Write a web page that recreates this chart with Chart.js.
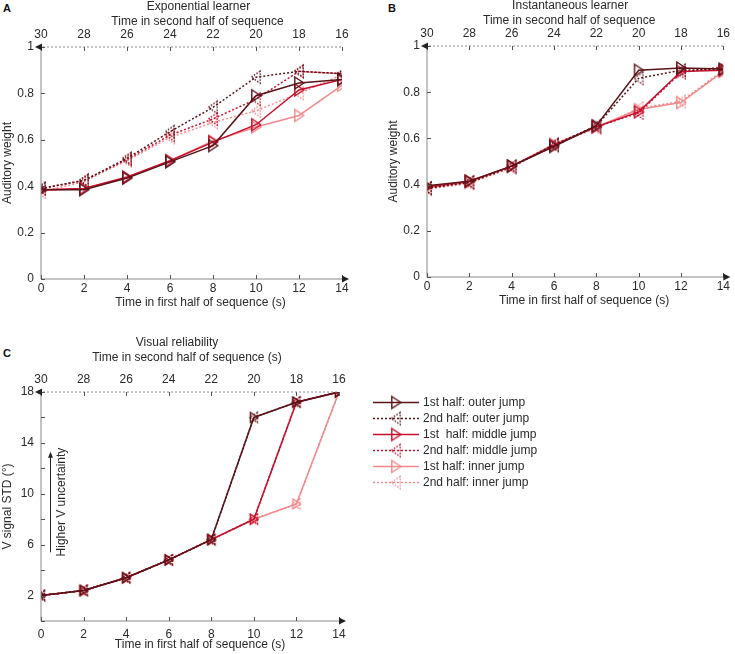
<!DOCTYPE html>
<html>
<head>
<meta charset="utf-8">
<script src="https://cdn.jsdelivr.net/npm/chart.js@4.4.1/dist/chart.umd.min.js"></script>
<style>
  body { margin: 0; background: #fff; width: 735px; height: 654px; position: relative; overflow: hidden; font-family: "Liberation Sans", Arial, sans-serif; }
  .panel { position: absolute; }
  .tag { position: absolute; font-weight: bold; font-size: 11px; color: #111; line-height: 11px; }
</style>
</head>
<body>
<div class="tag" style="left:3px;top:3px">A</div>
<div class="tag" style="left:388px;top:3px">B</div>
<div class="tag" style="left:3px;top:348px">C</div>

<div class="panel" style="left:0;top:0"><canvas id="chartA" width="370" height="320"></canvas></div>
<div class="panel" style="left:386px;top:-1px"><canvas id="chartB" width="349" height="320"></canvas></div>
<div class="panel" style="left:0;top:335px"><canvas id="chartC" width="735" height="319"></canvas></div>

<script>
// time axes
const timeFirst = [0, 2, 4, 6, 8, 10, 12, 14];
const timeSecond = [30, 28, 26, 24, 22, 20, 18, 16];

// A: exponential learner, auditory weight
const expOuter1 = [0.385, 0.385, 0.435, 0.505, 0.575, 0.79, 0.845, 0.86];
const expOuter2 = [0.39, 0.425, 0.52, 0.635, 0.74, 0.87, 0.895, 0.885];
const expMiddle1 = [0.385, 0.39, 0.44, 0.51, 0.59, 0.665, 0.815, 0.86];
const expMiddle2 = [0.39, 0.425, 0.515, 0.62, 0.69, 0.775, 0.895, 0.885];
const expInner1 = [0.38, 0.39, 0.435, 0.51, 0.595, 0.655, 0.705, 0.835];
const expInner2 = [0.375, 0.42, 0.51, 0.61, 0.675, 0.725, 0.8, 0.88];

// B: instantaneous learner
const insOuter1 = [0.395, 0.415, 0.48, 0.565, 0.655, 0.895, 0.905, 0.9];
const insOuter2 = [0.385, 0.41, 0.48, 0.57, 0.655, 0.86, 0.895, 0.9];
const insMiddle1 = [0.39, 0.415, 0.48, 0.57, 0.65, 0.715, 0.89, 0.895];
const insMiddle2 = [0.385, 0.41, 0.475, 0.575, 0.65, 0.71, 0.885, 0.91];
const insInner1 = [0.385, 0.41, 0.48, 0.575, 0.65, 0.725, 0.755, 0.89];
const insInner2 = [0.38, 0.405, 0.475, 0.57, 0.645, 0.73, 0.76, 0.895];

// C: visual reliability (V signal STD, deg) - both halves identical
const visOuter = [2, 2.4, 3.4, 4.8, 6.4, 16, 17.2, 18];
const visMiddle = [2, 2.4, 3.4, 4.8, 6.4, 8, 17.2, 18];
const visInner = [2, 2.4, 3.4, 4.8, 6.4, 8, 9.2, 18];

const seriesLabels = ['1st half: outer jump', '2nd half: outer jump', '1st  half: middle jump',
  '2nd half: middle jump', '1st half: inner jump', '2nd half: inner jump'];
const weightTicks = [0, 0.2, 0.4, 0.6, 0.8, 1];
const stdTicks = [2, 6, 10, 14, 18];

const colOuter = '#5a1418';
const colMiddle = '#c8102e';
const colInner = '#f2898b';
const textCol = '#2a2a2a';

Chart.defaults.font.family = '"Liberation Sans", Arial, sans-serif';
Chart.defaults.font.size = 12;
Chart.defaults.color = textCol;

// open triangle marker, dir 1 = right, -1 = left
function triMarker(color, dir, dotted, s) {
  const c = document.createElement('canvas');
  const w = Math.ceil(s * 2 + 4);
  c.width = w; c.height = w;
  const g = c.getContext('2d');
  g.strokeStyle = color;
  g.lineWidth = 1.4;
  if (dotted) g.setLineDash([1.5, 1.5]);
  const m = w / 2;
  g.beginPath();
  g.moveTo(m - dir * s * 0.7, m - s);
  g.lineTo(m + dir * s * 0.8, m);
  g.lineTo(m - dir * s * 0.7, m + s);
  g.closePath();
  g.stroke();
  return c;
}

function makeSets(vals, size) {
  const cols = [colOuter, colOuter, colMiddle, colMiddle, colInner, colInner];
  return vals.map((v, i) => {
    const second = i % 2 === 1;
    return {
      label: seriesLabels[i],
      data: v.map((y, k) => ({ x: timeFirst[k], y: y })),
      borderColor: cols[i],
      backgroundColor: cols[i],
      borderWidth: 1.5,
      borderDash: second ? [2, 2] : [],
      pointStyle: triMarker(cols[i], second ? -1 : 1, second, size),
      pointRadius: size,
      tension: 0,
      fill: false
    };
  });
}

// axis lines, inward ticks, arrows and the horizontal axis titles
const axisDecor = {
  id: 'axisDecor',
  afterDraw(chart, args, opts) {
    const { ctx, chartArea: a, scales } = chart;
    ctx.save();
    ctx.lineWidth = 1;
    ctx.strokeStyle = '#8a8a8a';
    ctx.beginPath();
    ctx.moveTo(a.left, a.top); ctx.lineTo(a.left, a.bottom); ctx.lineTo(a.right + 2, a.bottom);
    ctx.stroke();
    ctx.setLineDash([2, 2]);
    ctx.beginPath();
    ctx.moveTo(a.left - 2, a.top); ctx.lineTo(a.right, a.top);
    ctx.stroke();
    ctx.setLineDash([]);
    ctx.strokeStyle = '#555';
    ctx.beginPath();
    scales.x.ticks.forEach(t => {
      const px = Math.round(scales.x.getPixelForValue(t.value)) + 0.5;
      ctx.moveTo(px, a.bottom); ctx.lineTo(px, a.bottom - 4);
    });
    scales.x2.ticks.forEach(t => {
      const px = Math.round(scales.x2.getPixelForValue(t.value)) + 0.5;
      ctx.moveTo(px, a.top); ctx.lineTo(px, a.top + 4);
    });
    scales.y.ticks.forEach(t => {
      const py = Math.round(scales.y.getPixelForValue(t.value)) + 0.5;
      ctx.moveTo(a.left, py); ctx.lineTo(a.left + 4, py);
    });
    ctx.stroke();
    ctx.fillStyle = '#222';
    ctx.beginPath();
    ctx.moveTo(a.right + 7, a.bottom); ctx.lineTo(a.right, a.bottom - 3.5); ctx.lineTo(a.right, a.bottom + 3.5);
    ctx.closePath(); ctx.fill();
    ctx.beginPath();
    ctx.moveTo(a.left - 6, a.top); ctx.lineTo(a.left + 1, a.top - 3.5); ctx.lineTo(a.left + 1, a.top + 3.5);
    ctx.closePath(); ctx.fill();

    // titles (slightly off-centre like the original figure)
    const cx = (a.left + a.right) / 2;
    ctx.font = '12px "Liberation Sans", Arial, sans-serif';
    ctx.fillStyle = textCol;
    ctx.textAlign = 'center';
    ctx.textBaseline = 'middle';
    opts.top.forEach((line, i) => ctx.fillText(line, cx + opts.topShift[i], opts.topY + i * 15));
    ctx.fillText('Time in first half of sequence (s)', cx + opts.bottomShift, a.bottom + opts.bottomGap);
    ctx.restore();
  }
};

// legend and the uncertainty arrow for panel C
const panelCExtras = {
  id: 'panelCExtras',
  afterDraw(chart) {
    const { ctx, chartArea: a, scales } = chart;
    ctx.save();
    const ax = a.left + 9;
    const yLo = scales.y.getPixelForValue(5.4);
    const yHi = scales.y.getPixelForValue(13.3);
    ctx.strokeStyle = '#222'; ctx.fillStyle = '#222'; ctx.lineWidth = 1;
    ctx.beginPath(); ctx.moveTo(ax + 0.5, yLo); ctx.lineTo(ax + 0.5, yHi + 4); ctx.stroke();
    ctx.beginPath(); ctx.moveTo(ax + 0.5, yHi); ctx.lineTo(ax - 2, yHi + 6); ctx.lineTo(ax + 3, yHi + 6); ctx.closePath(); ctx.fill();
    ctx.translate(ax + 12, (yLo + yHi) / 2);
    ctx.rotate(-Math.PI / 2);
    ctx.font = '12px "Liberation Sans", Arial, sans-serif';
    ctx.textAlign = 'center'; ctx.textBaseline = 'middle';
    ctx.fillStyle = textCol;
    ctx.fillText('Higher V uncertainty', 0, 0);
    ctx.restore();

    ctx.save();
    ctx.font = '12px "Liberation Sans", Arial, sans-serif';
    ctx.textBaseline = 'middle';
    chart.data.datasets.forEach((ds, i) => {
      const y = 67 + i * 16;
      ctx.strokeStyle = ds.borderColor;
      ctx.lineWidth = 1.5;
      ctx.setLineDash(ds.borderDash);
      ctx.beginPath(); ctx.moveTo(373, y + 0.5); ctx.lineTo(419, y + 0.5); ctx.stroke();
      ctx.setLineDash([]);
      const mk = triMarker(ds.borderColor, i % 2 ? -1 : 1, i % 2 === 1, 6);
      ctx.drawImage(mk, 396 - mk.width / 2, y + 0.5 - mk.height / 2);
      ctx.fillStyle = textCol;
      ctx.fillText(ds.label, 423, y + 1);
    });
    ctx.restore();
  }
};

function buildChart(id, cfg) {
  return new Chart(document.getElementById(id), {
    type: 'line',
    data: { datasets: cfg.sets },
    plugins: cfg.extra ? [axisDecor, cfg.extra] : [axisDecor],
    options: {
      responsive: false,
      animation: false,
      events: [],
      layout: { padding: { left: 0, right: cfg.padRight, top: 0, bottom: 0 } },
      plugins: {
        legend: { display: false }, tooltip: { enabled: false },
        axisDecor: { top: cfg.topTitle, topShift: cfg.topShift, topY: cfg.topY, bottomShift: cfg.bottomShift, bottomGap: cfg.bottomGap }
      },
      scales: {
        x: {
          type: 'linear', position: 'bottom',
          min: timeFirst[0], max: timeFirst[timeFirst.length - 1],
          grid: { display: false, drawTicks: false }, border: { display: false },
          ticks: { stepSize: 2, padding: cfg.xPad },
          afterFit: s => { s.height = cfg.bottomH; }
        },
        x2: {
          type: 'linear', position: 'top', reverse: true,
          min: Math.min(...timeSecond), max: Math.max(...timeSecond),
          grid: { display: false, drawTicks: false }, border: { display: false },
          ticks: { stepSize: 2, padding: 5 },
          afterFit: s => { s.height = cfg.topH; }
        },
        y: {
          type: 'linear', min: cfg.yMin, max: cfg.yMax,
          grid: { display: false, drawTicks: false }, border: { display: false },
          ticks: {
            stepSize: cfg.yStep, padding: 7,
            callback: v => cfg.yLabels.some(l => Math.abs(l - v) < 1e-6) ? String(+v.toFixed(2)) : ''
          },
          title: { display: true, text: cfg.yTitle, padding: { top: 0, bottom: 0 } },
          afterFit: s => { s.width = 41; }
        }
      }
    }
  });
}

buildChart('chartA', {
  sets: makeSets([expOuter1, expOuter2, expMiddle1, expMiddle2, expInner1, expInner2], 6),
  padRight: 28, topH: 47, bottomH: 41, xPad: 2,
  topTitle: ['Exponential learner', 'Time in second half of sequence'],
  topShift: [7, 6], topY: 7, bottomShift: 9, bottomGap: 24,
  yMin: 0, yMax: 1, yStep: 0.2, yLabels: weightTicks, yTitle: 'Auditory weight'
});

buildChart('chartB', {
  sets: makeSets([insOuter1, insOuter2, insMiddle1, insMiddle2, insInner1, insInner2], 6),
  padRight: 8, topH: 47, bottomH: 42, xPad: 2,
  topTitle: ['Instantaneous learner', 'Time in second half of sequence'],
  topShift: [-5, -6], topY: 7, bottomShift: 9, bottomGap: 24,
  yMin: 0, yMax: 1, yStep: 0.2, yLabels: weightTicks, yTitle: 'Auditory weight'
});

buildChart('chartC', {
  sets: makeSets([visOuter, visOuter, visMiddle, visMiddle, visInner, visInner], 5),
  extra: panelCExtras,
  padRight: 396, topH: 57, bottomH: 33, xPad: 6,
  topTitle: ['Visual reliability', 'Time in second half of sequence (s)'],
  topShift: [-13, -3], topY: 8, bottomShift: 10, bottomGap: 24,
  yMin: 0, yMax: 18, yStep: 2, yLabels: stdTicks, yTitle: 'V signal STD (°)'
});
</script>
</body>
</html>
